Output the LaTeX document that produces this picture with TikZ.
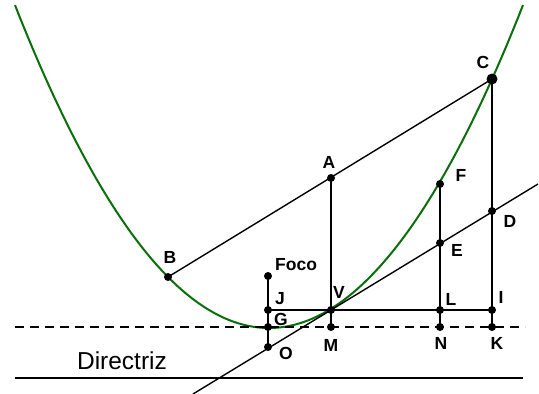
\documentclass[tikz,border=0pt]{standalone}
\usepackage{fontspec}
\setmainfont{Liberation Sans}
\definecolor{parab}{RGB}{10,110,10}
\begin{document}
\begin{tikzpicture}[x=1pt,y=-1pt,
  dot/.style={circle,fill=black,inner sep=0pt,minimum size=8pt},
  bigdot/.style={circle,fill=black,inner sep=0pt,minimum size=11pt},
  lab/.style={font=\fontsize{17.5}{17.5}\selectfont\bfseries,inner sep=0pt},
  ln/.style={line width=1.4pt},
]
\useasboundingbox (0,0) rectangle (539,394);
% parabola
\draw[parab,line width=2pt,domain=15:523,samples=120,smooth] plot (\x,{328-0.005*(\x-269)*(\x-269)});
% dashed and directrix
\coordinate (d1) at (15,327);
\coordinate (d2) at (525,327);
\draw[ln,dash pattern=on 8.5pt off 6.5pt] (d1) -- (d2);
\coordinate (r1) at (15,378);
\coordinate (r2) at (523,378);
\draw[line width=2pt] (r1) -- (r2);
\node[font=\fontsize{24.5}{24.5}\selectfont,inner sep=0pt] (dirlab) at (122,361) {Directriz};
% points
\node[bigdot] (C) at (492,79) {};
\node[dot] (A) at (331,178) {};
\node[dot] (B) at (168,277) {};
\node[dot] (F) at (440,184) {};
\node[dot] (D) at (492,211) {};
\node[dot] (E) at (440,243) {};
\node[dot] (Foco) at (268,276) {};
\node[dot] (J) at (268,310) {};
\node[dot] (V) at (331,310) {};
\node[dot] (L) at (440,310) {};
\node[dot] (I) at (492,310) {};
\node[dot] (G) at (268,327) {};
\node[dot] (M) at (331,327) {};
\node[dot] (N) at (440,327) {};
\node[dot] (K) at (492,327) {};
\node[dot] (O) at (268,347) {};
% lines
\draw[ln] (B.center) -- (C.center);
\draw[ln] (A.center) -- (M.center);
\draw[ln] (Foco.center) -- (O.center);
\draw[ln] (F.center) -- (N.center);
\draw[ln] (C.center) -- (K.center);
\draw[ln] (J.center) -- (I.center);
\coordinate (t1) at (193,394);
\coordinate (t2) at (538,184);
\draw[ln] (t1) -- (t2);
% labels
\node[lab] (lC) at (483,62) {C};
\node[lab] (lA) at (329,162) {A};
\node[lab] (lB) at (170,257) {B};
\node[lab,anchor=west] (lFoco) at (275,265) {Foco};
\node[lab] (lJ) at (280,299) {J};
\node[lab] (lG) at (281,319) {G};
\node[lab] (lV) at (339,292) {V};
\node[lab] (lO) at (286,353) {O};
\node[lab] (lM) at (331,345) {M};
\node[lab] (lF) at (461,175) {F};
\node[lab] (lD) at (510,221) {D};
\node[lab] (lE) at (457,250) {E};
\node[lab] (lL) at (451,299) {L};
\node[lab] (lI) at (501,297) {I};
\node[lab] (lN) at (441,343) {N};
\node[lab] (lK) at (497,343) {K};
\end{tikzpicture}
\end{document}
